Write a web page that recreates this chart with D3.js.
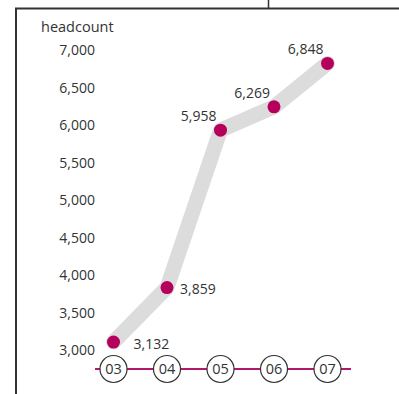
<!DOCTYPE html>
<html>
<head>
<meta charset="utf-8">
<script src="https://cdn.jsdelivr.net/npm/d3@7"></script>
<style>
  html, body { margin: 0; padding: 0; background: #fff; }
  svg { display: block; }
  text { font-family: "Open Sans", "Noto Sans", sans-serif; fill: #333; }
</style>
</head>
<body>
<svg id="chart" width="399" height="394"></svg>
<script>
const years = ["03", "04", "05", "06", "07"];
const headcount = [3132, 3859, 5958, 6269, 6848];
const yTicks = [3000, 3500, 4000, 4500, 5000, 5500, 6000, 6500, 7000];
const yTitle = "headcount";

const svg = d3.select("#chart");
const fmt = d3.format(",");

// frame
svg.append("path")
  .attr("d", "M16,394 V8.5 H399")
  .attr("fill", "none").attr("stroke", "#333").attr("stroke-width", 2);
svg.append("line")
  .attr("x1", 268.5).attr("x2", 268.5).attr("y1", 0).attr("y2", 8)
  .attr("stroke", "#333").attr("stroke-width", 1.5);

const x = d3.scalePoint().domain(years).range([113.5, 327.5]);
const y = d3.scaleLinear().domain([3000, 7000]).range([352, 52]);

// y axis labels (no axis line)
const yAxis = d3.axisLeft(y).tickValues(yTicks).tickFormat(fmt).tickSize(0).tickPadding(0);
const gy = svg.append("g").attr("transform", "translate(95,-1.5)").call(yAxis);
gy.select(".domain").remove();
gy.selectAll("text").style("font-size", "14px").attr("fill", "#333")
  .style("font-family", "\"Open Sans\", \"Noto Sans\", sans-serif");

svg.append("text").attr("x", 41).attr("y", 32)
  .style("font-size", "14.5px").text(yTitle);

// x axis
const axisY = 369;
svg.append("line")
  .attr("x1", 95).attr("x2", 351).attr("y1", axisY).attr("y2", axisY)
  .attr("stroke", "#b3186b").attr("stroke-width", 2);
const gx = svg.append("g");
gx.selectAll("circle").data(years).join("circle")
  .attr("cx", d => x(d)).attr("cy", axisY).attr("r", 13.5)
  .attr("fill", "#fff").attr("stroke", "#333").attr("stroke-width", 1.2);
gx.selectAll("text").data(years).join("text")
  .attr("x", d => x(d)).attr("y", axisY).attr("dy", "0.35em")
  .attr("text-anchor", "middle").style("font-size", "14.5px").text(d => d);

// thick gray line
const pts = years.map((yr, i) => [x(yr), y(headcount[i])]);
svg.append("path")
  .attr("d", d3.line()(pts))
  .attr("fill", "none").attr("stroke", "#dcdcdc").attr("stroke-width", 15)
  .attr("stroke-linecap", "round").attr("stroke-linejoin", "round");

// dots
svg.selectAll("circle.dot").data(headcount).join("circle").attr("class", "dot")
  .attr("cx", (d, i) => x(years[i])).attr("cy", d => y(d)).attr("r", 6.5)
  .attr("fill", "#b5005c");

// value labels
svg.selectAll("text.val").data(headcount).join("text").attr("class", "val")
  .attr("x", (d, i) => x(years[i]) + (i === 0 ? 20 : i === 1 ? 13 : -4))
  .attr("y", (d, i) => y(d) + (i < 2 ? 2 : -14))
  .attr("dy", "0.35em")
  .attr("text-anchor", (d, i) => i < 2 ? "start" : "end")
  .style("font-size", "14px")
  .text(d => fmt(d));
</script>
</body>
</html>
